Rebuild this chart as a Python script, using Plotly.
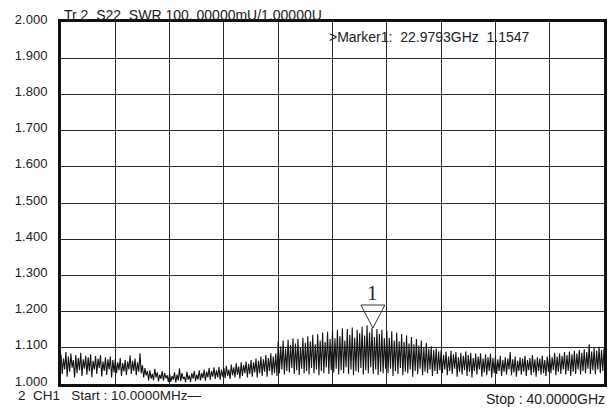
import numpy as np
import plotly.graph_objects as go

# Sweep settings (GHz)
start_ghz = 0.01
stop_ghz = 40.0

# SWR trace values (alternating peaks / troughs of the noisy trace)
swr_values = [
    # 0-4 GHz
    1.082, 1.028, 1.070, 1.040, 1.088, 1.020, 1.076, 1.034, 1.084, 1.045, 1.066, 1.018, 1.080, 1.030, 1.072, 1.038, 1.086, 1.022, 1.068, 1.042, 1.078, 1.026,
    1.074, 1.035, 1.082, 1.019, 1.064, 1.040, 1.077, 1.028, 1.070, 1.044, 1.080, 1.021, 1.062, 1.036, 1.074, 1.025, 1.068, 1.040, 1.076, 1.018, 1.066, 1.032,
    # 4-8 GHz
    1.068, 1.030, 1.060, 1.038, 1.072, 1.022, 1.058, 1.035, 1.066, 1.025, 1.062, 1.040, 1.079, 1.028, 1.064, 1.036, 1.070, 1.024, 1.060, 1.034, 1.085, 1.030,
    1.052, 1.018, 1.044, 1.024, 1.036, 1.010, 1.038, 1.015, 1.028, 1.010, 1.042, 1.018, 1.032, 1.007, 1.026, 1.014, 1.035, 1.009, 1.030, 1.016, 1.024, 1.006,
    # 8-12 GHz
    1.028, 1.006, 1.022, 1.012, 1.032, 1.004, 1.026, 1.010, 1.043, 1.008, 1.030, 1.014, 1.020, 1.005, 1.034, 1.012, 1.024, 1.006, 1.030, 1.015, 1.036, 1.008,
    1.026, 1.012, 1.038, 1.010, 1.030, 1.016, 1.040, 1.009, 1.034, 1.018, 1.044, 1.012, 1.036, 1.020, 1.046, 1.014, 1.038, 1.018, 1.047, 1.012, 1.040, 1.020,
    # 12-16 GHz
    1.044, 1.016, 1.050, 1.022, 1.040, 1.014, 1.054, 1.024, 1.046, 1.018, 1.058, 1.026, 1.048, 1.015, 1.060, 1.022, 1.052, 1.030, 1.062, 1.018, 1.056, 1.028,
    1.066, 1.020, 1.060, 1.032, 1.070, 1.018, 1.064, 1.030, 1.076, 1.022, 1.068, 1.034, 1.080, 1.020, 1.072, 1.036, 1.085, 1.024, 1.076, 1.030, 1.084, 1.022,
    # 16-20 GHz
    1.118, 1.030, 1.104, 1.040, 1.120, 1.026, 1.098, 1.036, 1.122, 1.032, 1.108, 1.044, 1.126, 1.028, 1.112, 1.038, 1.124, 1.025, 1.102, 1.042, 1.128, 1.030,
    1.114, 1.036, 1.132, 1.026, 1.118, 1.044, 1.136, 1.030, 1.110, 1.040, 1.138, 1.024, 1.120, 1.036, 1.142, 1.030, 1.116, 1.046, 1.144, 1.028, 1.124, 1.038,
    # 20-24 GHz
    1.148, 1.032, 1.126, 1.042, 1.150, 1.026, 1.132, 1.038, 1.154, 1.030, 1.120, 1.046, 1.152, 1.028, 1.136, 1.040, 1.156, 1.024, 1.128, 1.036, 1.150, 1.032,
    1.140, 1.044, 1.158, 1.026, 1.134, 1.038, 1.162, 1.030, 1.142, 1.046, 1.155, 1.028, 1.130, 1.040, 1.152, 1.025, 1.138, 1.034, 1.150, 1.030, 1.126, 1.042,
    # 24-28 GHz
    1.148, 1.030, 1.128, 1.042, 1.146, 1.022, 1.120, 1.036, 1.142, 1.028, 1.118, 1.044, 1.138, 1.024, 1.116, 1.034, 1.134, 1.030, 1.112, 1.040, 1.130, 1.020,
    1.110, 1.036, 1.124, 1.028, 1.106, 1.042, 1.120, 1.024, 1.100, 1.034, 1.114, 1.030, 1.098, 1.040, 1.104, 1.022, 1.094, 1.036, 1.099, 1.028, 1.090, 1.038,
    # 28-32 GHz
    1.093, 1.030, 1.080, 1.040, 1.090, 1.024, 1.076, 1.036, 1.092, 1.028, 1.082, 1.042, 1.088, 1.020, 1.074, 1.034, 1.086, 1.026, 1.078, 1.038, 1.090, 1.022,
    1.080, 1.034, 1.086, 1.018, 1.072, 1.036, 1.084, 1.026, 1.076, 1.040, 1.085, 1.020, 1.070, 1.032, 1.082, 1.024, 1.074, 1.036, 1.084, 1.018, 1.072, 1.030,
    # 32-36 GHz
    1.076, 1.028, 1.068, 1.036, 1.078, 1.022, 1.066, 1.034, 1.074, 1.026, 1.070, 1.040, 1.088, 1.024, 1.068, 1.032, 1.076, 1.020, 1.064, 1.036, 1.074, 1.026,
    1.070, 1.034, 1.078, 1.022, 1.066, 1.038, 1.072, 1.024, 1.080, 1.032, 1.068, 1.020, 1.074, 1.036, 1.070, 1.026, 1.078, 1.030, 1.066, 1.022, 1.076, 1.034,
    # 36-40 GHz
    1.080, 1.030, 1.074, 1.038, 1.086, 1.024, 1.076, 1.034, 1.084, 1.028, 1.078, 1.040, 1.088, 1.026, 1.080, 1.036, 1.090, 1.022, 1.082, 1.034, 1.092, 1.028,
    1.084, 1.040, 1.094, 1.026, 1.086, 1.036, 1.096, 1.030, 1.088, 1.042, 1.110, 1.028, 1.090, 1.038, 1.100, 1.026, 1.092, 1.040, 1.103, 1.030, 1.094, 1.036,
    1.098,
]

# Marker
marker_freq = 22.9793
marker_val = 1.1547

# Y axis
y_min = 1.0
y_max = 2.0
y_ticks = [1.0, 1.1, 1.2, 1.3, 1.4, 1.5, 1.6, 1.7, 1.8, 1.9, 2.0]
y_tick_labels = ["1.000", "1.100", "1.200", "1.300", "1.400", "1.500", "1.600", "1.700", "1.800", "1.900", "2.000"]

freqs = np.linspace(start_ghz, stop_ghz, len(swr_values))
x_grid = list(np.linspace(start_ghz, stop_ghz, 11))

FONT = "Liberation Sans, Arial, sans-serif"
TXT = "#222222"

# plot area in pixels (for placing the screen texts)
L, R, T, B = 61, 604, 22, 384
def px(xp):
    return (xp - L) / (R - L)
def py(yp):
    return (B - yp) / (B - T)

fig = go.Figure()
fig.add_trace(go.Scatter(
    x=freqs, y=swr_values, mode="lines",
    line=dict(color="#141414", width=1.1),
    hoverinfo="skip", showlegend=False,
))

# Marker triangle (tip at marker point)
fig.add_shape(
    type="path", xref="x", yref="y",
    xsizemode="pixel", ysizemode="pixel",
    xanchor=marker_freq, yanchor=marker_val,
    path="M -12,23 L 12,23 L 0,0 Z",
    line=dict(color="#333333", width=1),
    fillcolor="rgba(0,0,0,0)",
)
fig.add_annotation(
    x=marker_freq, y=marker_val, xref="x", yref="y",
    text="1", showarrow=False, yshift=35,
    font=dict(family="Liberation Serif, Times New Roman, serif", size=21, color=TXT),
)

fig.add_annotation(
    x=px(327), y=py(37), xref="paper", yref="paper",
    text=">Marker1:\u00a0\u00a022.9793GHz\u00a0\u00a01.1547", showarrow=False,
    xanchor="left", yanchor="middle",
    font=dict(family=FONT, size=14, color=TXT),
)

# Header / footer text
fig.add_annotation(
    x=px(62), y=py(25), xref="paper", yref="paper",
    text="Tr 2\u00a0\u00a0S22\u00a0\u00a0SWR\u00a0100.\u00a000000mU/1.00000U", showarrow=False,
    xanchor="left", yanchor="bottom",
    font=dict(family=FONT, size=14, color=TXT),
)
fig.add_annotation(
    x=px(16), y=py(395.5), xref="paper", yref="paper",
    text="2\u00a0\u00a0CH1\u00a0\u00a0\u00a0Start : 10.0000MHz—", showarrow=False,
    xanchor="left", yanchor="middle",
    font=dict(family=FONT, size=13.5, color=TXT),
)
fig.add_annotation(
    x=px(607), y=py(399), xref="paper", yref="paper",
    text="Stop : 40.0000GHz", showarrow=False,
    xanchor="right", yanchor="middle",
    font=dict(family=FONT, size=14, color=TXT),
)

fig.update_layout(
    width=608, height=409,
    margin=dict(l=L, r=608 - R, t=T, b=409 - B, autoexpand=False),
    paper_bgcolor="white", plot_bgcolor="white",
    xaxis=dict(
        range=[start_ghz, stop_ghz], tickvals=x_grid, showticklabels=False,
        showgrid=True, gridcolor="#2a2a2a", gridwidth=1, zeroline=False,
        showline=True, linecolor="#111111", linewidth=3, mirror=True, ticks="",
        automargin=False,
    ),
    yaxis=dict(
        range=[y_min, y_max], tickvals=y_ticks, ticktext=y_tick_labels,
        showgrid=True, gridcolor="#2a2a2a", gridwidth=1, zeroline=False,
        showline=True, linecolor="#111111", linewidth=3, mirror=True,
        ticks="", ticklabelstandoff=8, ticklabelshift=-3, automargin=False,
        tickfont=dict(family=FONT, size=13, color=TXT),
    ),
)

fig.write_html(
    "out.html",
    config={"displayModeBar": False, "staticPlot": True},
    post_script="document.body.style.margin='0';document.body.style.padding='0';",
)
